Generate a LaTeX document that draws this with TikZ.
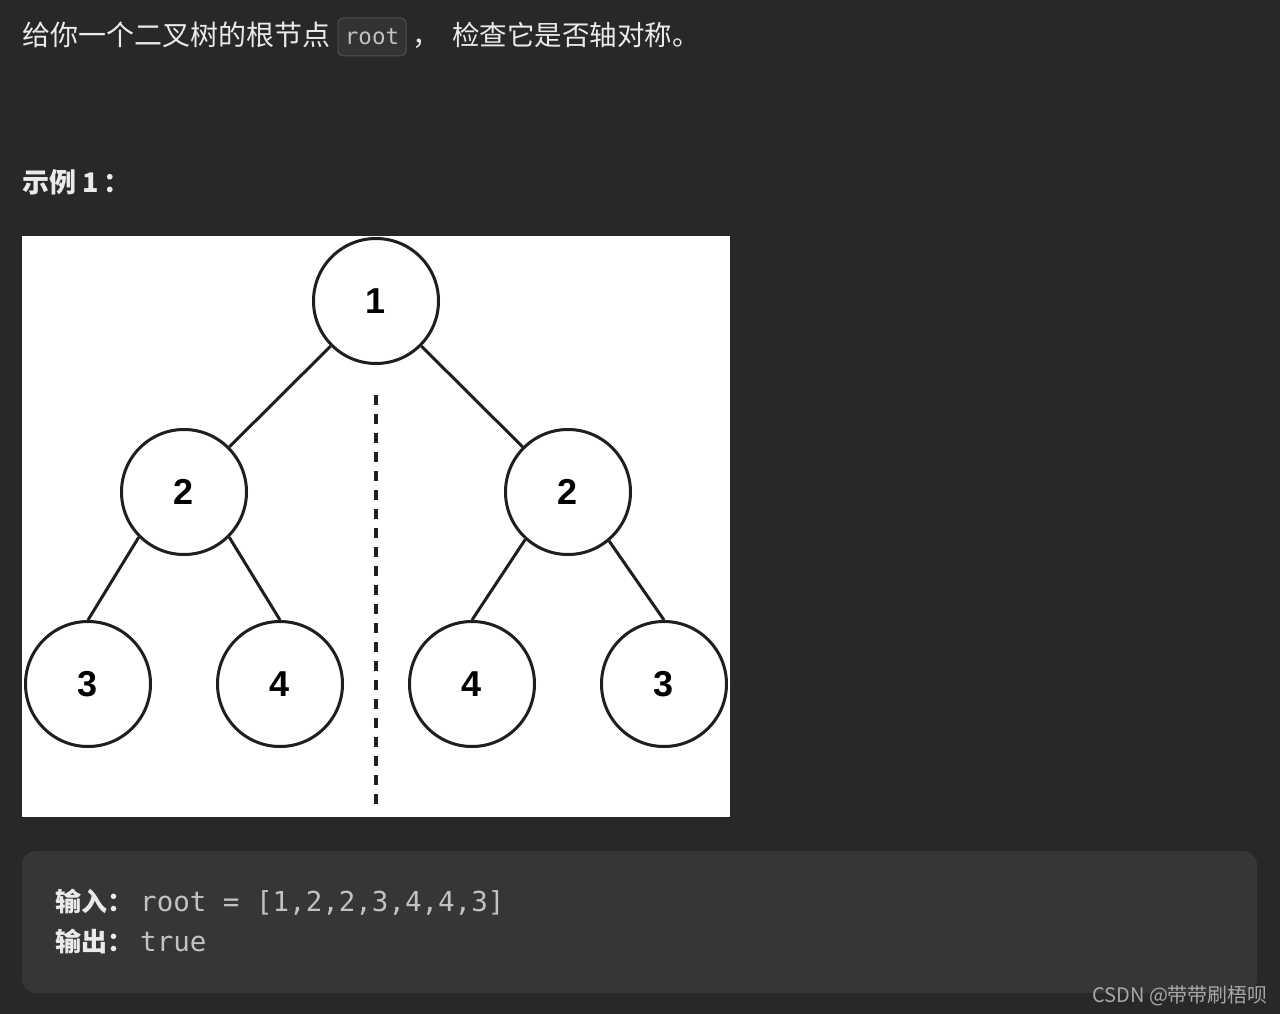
\documentclass[tikz,border=0pt]{standalone}
\usepackage{fontspec}
\setmainfont{Noto Sans CJK SC}
\newfontfamily\codefont{DejaVu Sans Mono}
\newfontfamily\numfont{Liberation Sans}
\definecolor{pagebg}{HTML}{282828}
\definecolor{blockbg}{HTML}{363636}
\definecolor{badgebg}{HTML}{333333}
\definecolor{badgeline}{HTML}{505050}
\definecolor{txt}{HTML}{EAEAEA}
\definecolor{codetxt}{HTML}{C2C2C2}
\definecolor{marktxt}{HTML}{A8A8A8}
\definecolor{ink}{HTML}{1E1E1E}
\newcommand{\sz}[1]{\fontsize{#1}{#1}\selectfont}

\tikzset{
  treenode/.style={circle, draw=ink, line width=3pt, fill=white,
    minimum size=125pt, inner sep=0pt, font=\numfont\bfseries\sz{36}},
  branch/.style={draw=ink, line width=3pt},
  para/.style={anchor=base west, inner sep=0pt, text=txt, font=\sz{27.5}},
  code/.style={anchor=base west, inner sep=0pt, text=codetxt, font=\codefont\sz{27.5}}
}

\begin{document}
\begin{tikzpicture}[x=1pt,y=-1pt]
  \useasboundingbox[fill=pagebg] (0,0) rectangle (1280,1014);

  % title line
  \node[para, font=\sz{28}] (t1) at (22,46) {给你一个二叉树的根节点};
  \node[draw=badgeline, fill=badgebg, rounded corners=5pt, line width=1pt,
        minimum width=68pt, minimum height=38pt, inner sep=0pt,
        text=codetxt, font=\codefont\sz{22.5}] (badge) at (372,37) {root};
  \node[para] (comma) at (412,46) {，};
  \node[para] (t2) at (452,46) {检查它是否轴对称。};

  \node[para, font=\bfseries\sz{27}] (ex) at (22,193) {示例 1\hspace{5pt}：};

  % picture
  \fill[white] (22,236) rectangle (730,817);
  \coordinate (top) at (376,395);
  \coordinate (bot) at (376,812);
  \draw[ink, line width=3.6pt, dash pattern=on 10pt off 9pt] (top) -- (bot);

  \node[treenode] (r)  at (376,301) {1};
  \node[treenode] (l)  at (184,492) {2};
  \node[treenode] (rr) at (568,492) {2};
  \node[treenode] (ll) at (88,684)  {3};
  \node[treenode] (lr) at (280,684) {4};
  \node[treenode] (rl) at (472,684) {4};
  \node[treenode] (rx) at (664,684) {3};

  \draw[branch] (r) -- (l);
  \draw[branch] (r) -- (rr);
  \draw[branch] (l.-135) -- (ll.north);
  \draw[branch] (l.-45) -- (lr.north);
  \draw[branch] (rr.-132) -- (rl.north);
  \draw[branch] (rr.-50) -- (rx.north);

  % input / output block
  \fill[blockbg, rounded corners=14pt] (22,851) rectangle (1257,993);
  \node[para, font=\bfseries\sz{26}] (inlab) at (55,911) {输入：};
  \node[code] (inval) at (140,911) {root = [1,2,2,3,4,4,3]};
  \node[para, font=\bfseries\sz{26}] (outlab) at (55,951) {输出：};
  \node[code] (outval) at (140,951) {true};

  \node[para, text=marktxt, font=\sz{20}] (mark) at (1092,1002) {CSDN @带带刷梧呗};
\end{tikzpicture}
\end{document}
